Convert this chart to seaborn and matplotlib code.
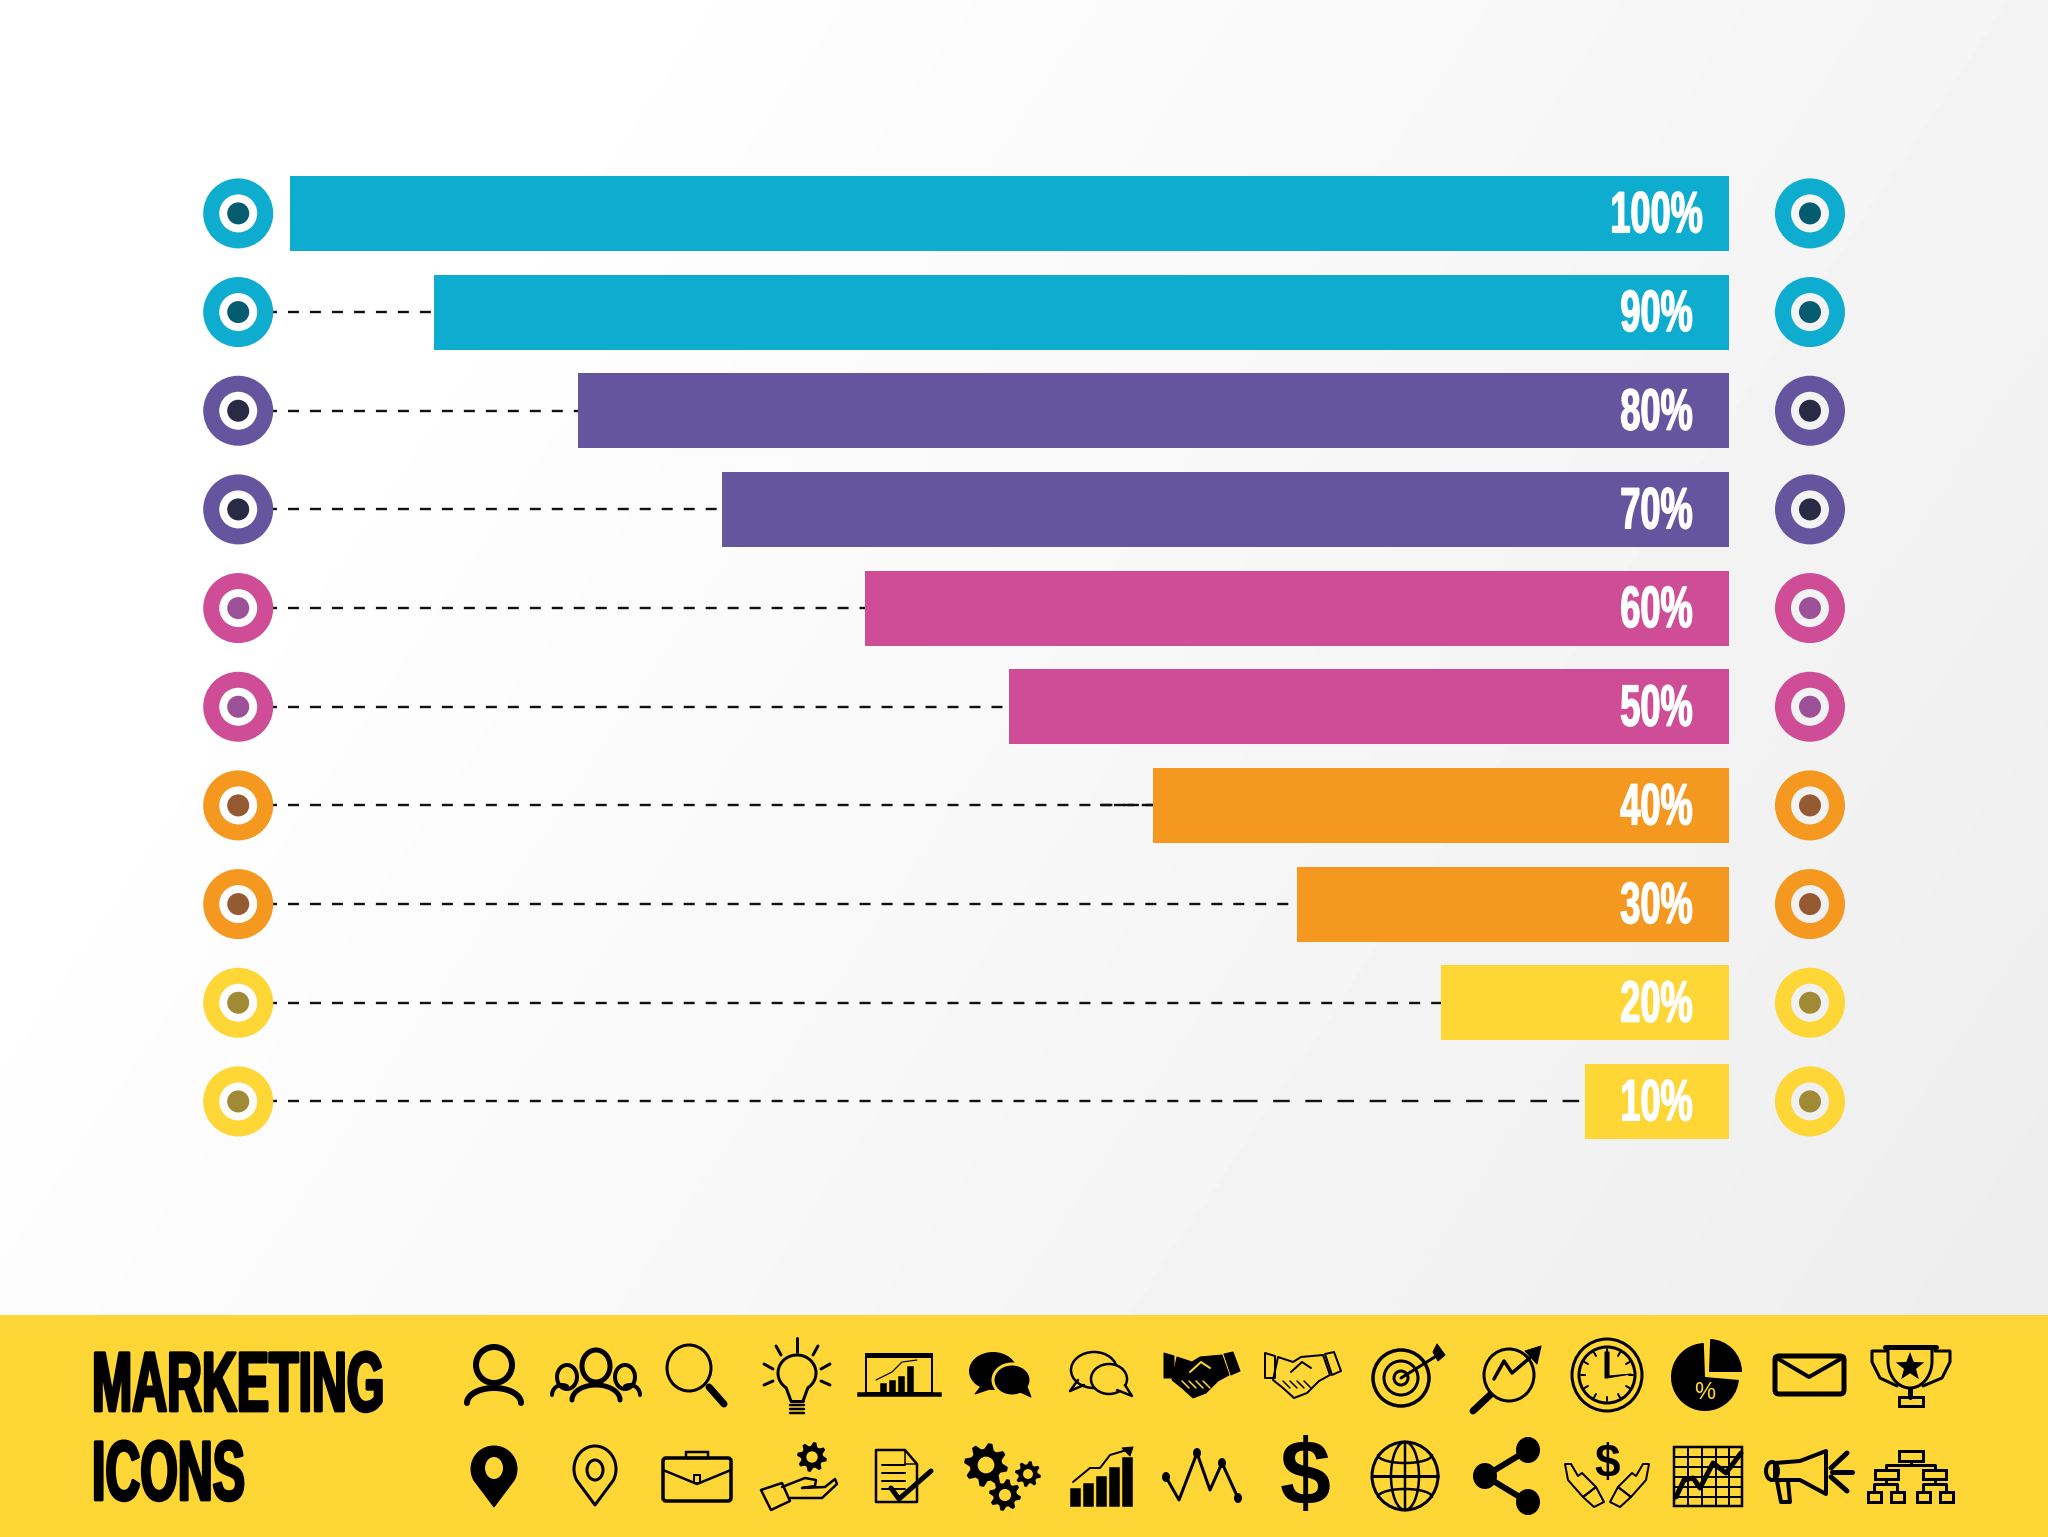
import matplotlib
matplotlib.use("Agg")
import matplotlib.pyplot as plt
import matplotlib.patheffects as pe
from matplotlib.patches import Ellipse, Polygon, Rectangle, FancyBboxPatch, Wedge
from matplotlib.transforms import Affine2D
import numpy as np
import seaborn as sns

values = [100, 90, 80, 70, 60, 50, 40, 30, 20, 10]
bar_colors = ["#0EACCE", "#0EACCE", "#65559F", "#65559F", "#CF4D96",
              "#CF4D96", "#F4981F", "#F4981F", "#FED636", "#FED636"]
dot_colors = ["#055C6E", "#055C6E", "#2A2A44", "#2A2A44", "#9C5097",
              "#9C5097", "#945B32", "#945B32", "#A08A35", "#A08A35"]
row_labels = [f"{v}%" for v in values]
title_lines = ["MARKETING", "ICONS"]

YELLOW = "#FED636"
W, H = 2048, 1537
PX = 0.72  # one pixel in points at dpi 100

# x axis runs right to left, bars grow from the right edge
PX_PER_UNIT = 14.387
X_ZERO = 1728.7
LEFT_DOT = 103.6
RIGHT_DOT = -5.65
LABEL_X = 5


class Squeeze(pe.AbstractPathEffect):
    # condensed and heavier look, none of the installed fonts gets there
    def __init__(self, sx, weight=0, from_left=False):
        super().__init__()
        self.sx = sx
        self.weight = weight
        self.from_left = from_left

    def draw_path(self, renderer, gc, tpath, affine, rgbFace=None):
        c = 0 if self.from_left else (tpath.vertices[:, 0].min() + tpath.vertices[:, 0].max()) / 2
        squeeze = Affine2D().translate(-c, 0).scale(self.sx, 1).translate(c, 0)
        gc0 = renderer.new_gc()
        gc0.copy_properties(gc)
        gc0.set_foreground(rgbFace)
        gc0.set_linewidth(self.weight)
        renderer.draw_path(gc0, tpath, squeeze + affine, rgbFace)
        gc0.restore()


sns.set_style("white")
plt.rcParams["font.family"] = ["Liberation Sans Narrow", "Liberation Sans", "DejaVu Sans"]

fig = plt.figure(figsize=(W / 100, H / 100), dpi=100)

# background gradient
bg = fig.add_axes([0, 0, 1, 1], zorder=0)
gx, gy = np.meshgrid(np.linspace(0, 1, 400), np.linspace(0, 1, 300))
shade = 255 - 18 * np.clip((gx * 0.7 + gy * 1.17 * 0.3 - 0.2) / 0.8, 0, 1)
bg.imshow(shade, cmap="gray", vmin=0, vmax=255, aspect="auto", extent=(0, W, H, 0))
bg.axis("off")

# chart
ax = fig.add_axes([0, 0, 1, 1], zorder=1)
ax.patch.set_alpha(0)
sns.barplot(x=values, y=row_labels, hue=row_labels, palette=bar_colors, dodge=False,
            width=0.76, saturation=1, legend=False, linewidth=0, ax=ax, zorder=3)
ax.axis("off")

rows = np.arange(len(values))
BREAK_X = 33.9
DASH_START = 101.65
for r, v in zip(rows[1:], values[1:]):
    end = BREAK_X if v == 10 else v
    ax.hlines(r, DASH_START, end, color="#111111", lw=2.4 * PX,
              linestyle=(0, (4.58, 4.58)), zorder=2)
# longer dashes on the last row, doubled ones on the 40% row
ax.hlines(rows[-1], BREAK_X, values[-1], color="#111111", lw=2.4 * PX,
          linestyle=(0, (6.9, 6.5)), zorder=2)
ax.hlines(rows[6], 43.7, values[6], color="#111111", lw=2.4 * PX,
          linestyle=(0, (4.6, 1.2)), zorder=2)

for dot_x in (LEFT_DOT, RIGHT_DOT):
    ax.scatter([dot_x] * len(rows), rows, s=(54 * PX) ** 2, facecolors="none",
               edgecolors=bar_colors, linewidths=16 * PX, zorder=4)
    sns.scatterplot(x=[dot_x] * len(rows), y=rows, hue=row_labels, palette=dot_colors,
                    s=(22 * PX) ** 2, linewidth=0, legend=False, ax=ax, zorder=5)

for r, lab in zip(rows, row_labels):
    ax.text(LABEL_X, r + 0.04, lab, color="white", fontsize=42, fontweight="bold",
            ha="center", va="center", zorder=6, path_effects=[Squeeze(0.62, weight=1.0)])
ax.set_xlim(X_ZERO / PX_PER_UNIT, (X_ZERO - W) / PX_PER_UNIT)
ax.set_ylim((H - 213.4) / 98.67, -213.4 / 98.67)

# banner with icons, in pixel coordinates
ic = fig.add_axes([0, 0, 1, 1], zorder=2)
ic.patch.set_alpha(0)
ic.set_xlim(0, W)
ic.set_ylim(H, 0)
ic.axis("off")
ic.add_patch(Rectangle((0, 1315), W, H - 1315, fc=YELLOW, ec="none"))

ic.text(92, 1389, title_lines[0], fontsize=61, fontweight="bold", color="black",
        ha="left", va="center", path_effects=[Squeeze(0.57, weight=2.0, from_left=True)])
ic.text(92, 1478, title_lines[1], fontsize=61, fontweight="bold", color="black",
        ha="left", va="center", path_effects=[Squeeze(0.57, weight=2.0, from_left=True)])


def st(pts, lw=3, closed=False, fc="none", ec="black"):
    ic.add_patch(Polygon(pts, closed=closed, fill=fc != "none", fc=fc, ec=ec, lw=lw * PX,
                         joinstyle="round", capstyle="round"))


def ell(x, y, rx, ry, t1=0, t2=360):
    t = np.radians(np.linspace(t1, t2, 60))
    return np.column_stack([x + rx * np.cos(t), y - ry * np.sin(t)])


def disc(x, y, rx, ry=None, fc="black", ec="none", lw=0):
    ic.add_patch(Ellipse((x, y), 2 * rx, 2 * (ry or rx), fc=fc, ec=ec, lw=lw * PX))


def ring(x, y, rx, ry=None, lw=3):
    disc(x, y, rx, ry, fc="none", ec="black", lw=lw)


def box(x0, y0, x1, y1, lw=3, fc="none"):
    ic.add_patch(Rectangle((x0, y0), x1 - x0, y1 - y0, fc=fc, ec="black", lw=lw * PX))


def gear(x, y, r, n=8):
    t = np.linspace(0, 2 * np.pi, n * 4, endpoint=False) + np.pi / (n * 4)
    rad = np.tile([r, r, r * 0.74, r * 0.74], n)
    ic.add_patch(Polygon(np.column_stack([x + rad * np.cos(t), y + rad * np.sin(t)]), fc="black", ec="none"))
    disc(x, y, r * 0.38, fc=YELLOW)


def star(x, y, r, fc="black"):
    t = np.radians(np.arange(10) * 36 + 90)
    rad = np.tile([r, r * 0.42], 5)
    ic.add_patch(Polygon(np.column_stack([x + rad * np.cos(t), y - rad * np.sin(t)]), fc=fc, ec="none"))


def handshake(dx, filled):
    fc = "black" if filled else "none"
    lw = 1 if filled else 2
    st([(1164 + dx, 1353), (1174 + dx, 1356), (1174 + dx, 1378), (1164 + dx, 1378)], lw, True, fc)
    st([(1224 + dx, 1354), (1233 + dx, 1352), (1240 + dx, 1371), (1231 + dx, 1375)], lw, True, fc)
    st([(1177 + dx, 1357), (1192 + dx, 1362), (1200 + dx, 1357), (1222 + dx, 1355), (1229 + dx, 1375),
        (1218 + dx, 1381), (1206 + dx, 1393), (1193 + dx, 1398), (1182 + dx, 1388), (1172 + dx, 1380)],
       lw, True, fc)
    slit = YELLOW if filled else "black"
    st([(1190 + dx, 1372), (1201 + dx, 1362), (1210 + dx, 1368)], 2, ec=slit)
    for sx in (1182, 1189, 1196, 1203):
        st([(sx + dx, 1381), (sx + 7 + dx, 1388)], 1.5, ec=slit)


# row 1
ring(494, 1365, 18, lw=6)
st(ell(494, 1403, 27, 15, 180, 0), 6)

ring(596, 1366, 14, 16, lw=5)
ring(567, 1377, 10, 12, lw=4)
ring(625, 1377, 10, 12, lw=4)
st(ell(596, 1400, 24, 15, 180, 0), 5)
st(ell(562, 1395, 10, 10, 180, 60), 4)
st(ell(630, 1395, 10, 10, 120, 0), 4)

ring(689, 1368, 22, 23, lw=3)
st([(709, 1387), (724, 1404)], 7)

st(np.vstack([[(791, 1401)], ell(797, 1373, 19, 18, 235, -55), [(803, 1401)]]), 3)
st([(791, 1401), (803, 1401)], 3)
for by in (1405, 1409, 1413):
    st([(790, by), (804, by)], 2.5)
for a, b in [((797, 1338), (797, 1352)), ((776, 1346), (781, 1355)), ((818, 1346), (813, 1355)),
             ((764, 1364), (773, 1369)), ((830, 1364), (821, 1369)), ((764, 1385), (773, 1381)),
             ((830, 1385), (821, 1381))]:
    st([a, b], 3)

box(866, 1354, 932, 1393, lw=2)
box(866, 1353, 932, 1357, lw=1, fc="black")
box(858, 1393, 941, 1396, lw=1.5, fc="black")
for bx, by in [(880, 1383), (889, 1380), (898, 1376), (907, 1366)]:
    box(bx, by, bx + 6, 1392, lw=0.5, fc="black")
st([(876, 1380), (892, 1372), (902, 1362), (917, 1360)], 1.2)

disc(993, 1371, 24, 19)
st([(982, 1385), (975, 1394), (993, 1388)], 1, True, "black")
disc(1012, 1380, 19, 16, ec=YELLOW, lw=3)
st([(1020, 1392), (1031, 1397), (1026, 1384)], 1, True, "black")

disc(1094, 1370, 23, 18, fc="none", ec="black", lw=2.5)
st([(1084, 1385), (1070, 1391), (1078, 1380)], 2.5)
disc(1109, 1379, 18, 15, fc=YELLOW, ec="black", lw=2.5)
st([(1117, 1390), (1132, 1396), (1125, 1385)], 2.5, fc=YELLOW)

handshake(0, True)
handshake(101, False)

for r_, lw_ in ((28, 3.5), (17, 3), (7, 3)):
    ring(1401, 1378, r_, lw=lw_)
st([(1401, 1378), (1438, 1355)], 3)
st([(1433, 1352), (1437, 1344), (1445, 1355), (1438, 1361)], 1, True, "black")

ring(1509, 1375, 25, 26, lw=3)
st([(1490, 1395), (1473, 1411)], 7)
st([(1494, 1379), (1504, 1361), (1512, 1373), (1532, 1356)], 3.5)
st([(1541, 1346), (1525, 1351), (1537, 1364)], 1, True, "black")

ring(1607, 1375, 35, 36, lw=3)
ring(1607, 1375, 28, 28, lw=3)
for a in np.arange(0, 360, 30):
    c_, s_ = np.cos(np.radians(a)), np.sin(np.radians(a))
    st([(1607 + 22 * c_, 1375 + 22 * s_), (1607 + 26 * c_, 1375 + 26 * s_)], 2)
st([(1605, 1352), (1609, 1352), (1609, 1376), (1631, 1374), (1607, 1378), (1605, 1378)], 1, True, "black")

ic.add_patch(Wedge((1705, 1377), 34, 5, 268, fc="black", ec="none"))
ic.add_patch(Wedge((1709, 1372), 33, 272, 360, fc="black", ec="none"))
ic.text(1705, 1393, "%", color=YELLOW, fontsize=17, family="Liberation Sans", ha="center", va="center")

ic.add_patch(FancyBboxPatch((1775, 1356), 69, 38, boxstyle="round,pad=0,rounding_size=4",
                            fc="none", ec="black", lw=5 * PX))
st([(1775, 1357), (1809, 1377), (1844, 1357)], 4)

st([(1885, 1347), (1936, 1347)], 5)
st(np.vstack([[(1888, 1347)], ell(1910, 1361, 22, 27, 180, 360), [(1932, 1347)]]), 3)
st([(1886, 1351), (1872, 1351), (1872, 1362), (1880, 1378), (1897, 1386)], 3)
st([(1935, 1351), (1950, 1351), (1950, 1362), (1942, 1378), (1923, 1386)], 3)
st([(1910, 1389), (1910, 1397)], 5)
box(1899, 1397, 1923, 1406, lw=3)
star(1910, 1367, 15)

# row 2
st(np.vstack([[(494, 1507)], ell(494, 1469, 23, 23, 210, -30)]), 1, True, "black")
disc(494, 1468, 9, 11, fc=YELLOW)

st(np.vstack([[(595, 1505)], ell(595, 1469, 21, 23, 210, -30)]), 3, True)
ring(595, 1470, 8, 10, lw=3)

ic.add_patch(FancyBboxPatch((663, 1458), 68, 43, boxstyle="round,pad=0,rounding_size=3",
                            fc="none", ec="black", lw=3.5 * PX))
box(686, 1452, 708, 1458, lw=2.5)
st([(663, 1470), (697, 1484), (731, 1470)], 2.5)
box(694, 1475, 700, 1483, lw=2, fc=YELLOW)

gear(812, 1457, 15)
st([(761, 1490), (782, 1483), (790, 1501), (771, 1510)], 2.5, True)
st([(782, 1487), (805, 1478), (816, 1480), (815, 1486), (802, 1488), (825, 1487), (835, 1479),
    (837, 1484), (822, 1498), (790, 1498)], 2.5)

st([(876, 1450), (905, 1450), (917, 1464), (917, 1502), (876, 1502)], 2.5, True)
st([(905, 1450), (905, 1464), (917, 1464)], 1.5)
for ly in (1465, 1473, 1481, 1489):
    st([(882, ly), (905, ly)], 2)
st([(891, 1488), (899, 1499), (931, 1471)], 5)

gear(986, 1465, 22)
gear(1005, 1495, 16)
gear(1028, 1474, 13)

for bx, top in zip([1070, 1083, 1096, 1109, 1122], [1488, 1483, 1476, 1467, 1457]):
    box(bx, top, bx + 9.5, 1506, lw=0.5, fc="black")
st([(1073, 1482), (1090, 1468), (1100, 1468), (1110, 1455), (1130, 1449)], 2)
st([(1133, 1447), (1122, 1448), (1130, 1456)], 1, True, "black")

zig = [(1166, 1477), (1179, 1500), (1197, 1453), (1210, 1490), (1222, 1463), (1238, 1498)]
st(zig, 3)
for p_ in (zig[0], zig[2], zig[4], zig[5]):
    disc(p_[0], p_[1], 4, 5)

ic.text(1305, 1480, "$", color="black", fontsize=66, fontweight="bold", family="Liberation Sans",
        ha="center", va="center")

ring(1405, 1476, 33, 34, lw=3)
ring(1405, 1476, 14, 34, lw=2.5)
st([(1405, 1442), (1405, 1510)], 2.5)
st([(1372, 1476), (1438, 1476)], 3)
st(ell(1405, 1455, 27, 8, 180, 360), 2.5)
st(ell(1405, 1497, 27, 8, 0, 180), 2.5)

st([(1528, 1450), (1485, 1476), (1528, 1502)], 6)
for sy, sx in ((1450, 1528), (1476, 1485), (1502, 1528)):
    disc(sx, sy, 12, 13)

ic.text(1607, 1465, "$", color="black", fontsize=33, fontweight="bold", family="Liberation Sans",
        ha="center", va="center")
for m in (1, -1):
    ox = lambda px_: 1607 + m * (px_ - 1607)
    st([(ox(1565), 1464), (ox(1568), 1480), (ox(1583), 1497), (ox(1596), 1487), (ox(1582), 1473),
        (ox(1578), 1476), (ox(1571), 1464)], 2, True)
    st([(ox(1583), 1497), (ox(1596), 1487), (ox(1604), 1502), (ox(1594), 1507)], 2, True)

box(1674, 1447, 1742, 1506, lw=2.5)
for gx_ in (1688, 1702, 1716, 1729):
    st([(gx_, 1447), (gx_, 1506)], 2)
for gy_ in (1457, 1467, 1477, 1487, 1497):
    st([(1674, gy_), (1742, gy_)], 2)
st([(1676, 1497), (1684, 1480), (1693, 1478), (1700, 1488), (1713, 1463), (1726, 1473), (1741, 1453)], 5)

st([(1775, 1463), (1800, 1461), (1826, 1451), (1826, 1494), (1800, 1480), (1775, 1480)], 4, True)
ring(1772, 1471, 6, 9, lw=4)
st([(1777, 1481), (1781, 1502), (1790, 1502), (1788, 1481)], 4)
for a, b in [((1831, 1468), (1847, 1453)), ((1832, 1472), (1852, 1472)), ((1831, 1477), (1847, 1491))]:
    st([a, b], 5)

box(1899, 1451, 1923, 1461, lw=3)
st([(1911, 1461), (1911, 1465)], 3)
st([(1886, 1470), (1886, 1465), (1935, 1465), (1935, 1470)], 3)
box(1875, 1470, 1898, 1479, lw=3)
box(1923, 1470, 1946, 1479, lw=3)
for bc in (1886, 1935):
    st([(bc, 1479), (bc, 1484)], 3)
    st([(bc - 12, 1492), (bc - 12, 1484), (bc + 11, 1484), (bc + 11, 1492)], 3)
    box(bc - 18, 1492, bc - 5, 1502, lw=3)
    box(bc + 5, 1492, bc + 18, 1502, lw=3)

fig.savefig("out.png", dpi=100)
plt.close(fig)
